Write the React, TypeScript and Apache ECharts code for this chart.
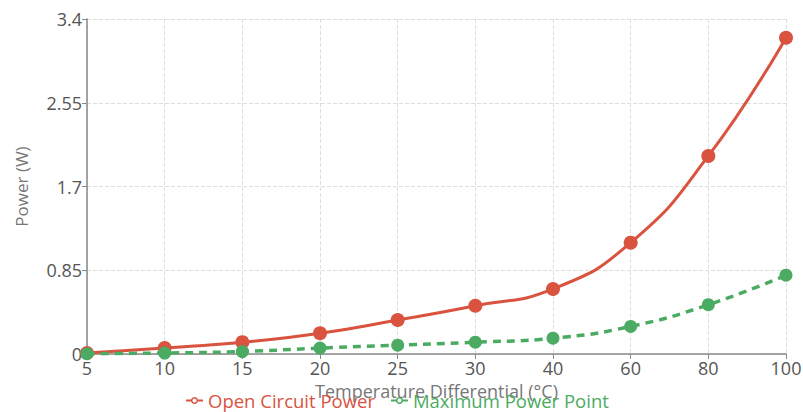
import React, { useEffect, useRef } from "react";
import * as echarts from "echarts";

const categories = ["5", "10", "15", "20", "25", "30", "40", "60", "80", "100"];
const openCircuitPower = [0.01, 0.06, 0.12, 0.21, 0.345, 0.49, 0.66, 1.13, 2.01, 3.21];
const maxPowerPoint = [0.003, 0.01, 0.025, 0.06, 0.09, 0.12, 0.16, 0.28, 0.5, 0.8];
const yTicks = { min: 0, max: 3.4, interval: 0.85 };

const RED = "#d9533f";
const GREEN = "#4cab62";
const FONT = "'Open Sans', 'Noto Sans', sans-serif";

export default function App() {
  const ref = useRef<HTMLDivElement>(null);
  useEffect(() => {
    if (!ref.current) return;
    const chart = echarts.init(ref.current, null, { renderer: "svg" });
    chart.setOption({
      animation: false,
      textStyle: { fontFamily: FONT },
      grid: { left: 87, right: 17, top: 19, bottom: 58, outerBoundsMode: "none", containLabel: false },
      legend: {
        top: 391,
        left: 185,
        padding: 0,
        itemGap: 15,
        itemWidth: 17,
        itemHeight: 7,
        textStyle: { fontSize: 18.5, fontFamily: FONT },
        data: [
          {
            name: "Open Circuit Power",
            itemStyle: { color: "#fff", borderColor: RED, borderWidth: 1.5 },
            lineStyle: { color: RED, width: 2, type: "solid" },
            textStyle: { color: RED },
          },
          {
            name: "Maximum Power Point",
            itemStyle: { color: "#fff", borderColor: GREEN, borderWidth: 1.5 },
            lineStyle: { color: GREEN, width: 2, type: "solid" },
            textStyle: { color: GREEN },
          },
        ],
      },
      xAxis: {
        type: "category",
        data: categories,
        boundaryGap: false,
        name: "Temperature Differential (°C)",
        nameLocation: "middle",
        nameGap: 25,
        nameTextStyle: { fontSize: 18, color: "#777", fontFamily: FONT },
        axisLine: { lineStyle: { color: "#888", width: 1.5 } },
        axisTick: { show: true, alignWithLabel: true, lineStyle: { color: "#888" } },
        axisLabel: { fontSize: 18, color: "#555", margin: 5 },
        splitLine: { show: true, lineStyle: { type: "dashed", color: "#dedede" } },
      },
      yAxis: {
        type: "value",
        min: yTicks.min,
        max: yTicks.max,
        interval: yTicks.interval,
        name: "Power (W)",
        nameLocation: "middle",
        nameGap: 57,
        nameTextStyle: { fontSize: 17, color: "#777", fontFamily: FONT },
        axisLine: { show: true, lineStyle: { color: "#888", width: 1.5 } },
        axisTick: { show: true, length: 5, lineStyle: { color: "#888" } },
        axisLabel: { fontSize: 18, color: "#555", margin: 5 },
        splitLine: { show: true, lineStyle: { type: "dashed", color: "#dedede" } },
      },
      series: [
        {
          name: "Open Circuit Power",
          type: "line",
          data: openCircuitPower,
          smooth: true,
          symbol: "circle",
          symbolSize: 14,
          lineStyle: { color: RED, width: 3 },
          itemStyle: { color: RED },
          z: 2,
        },
        {
          name: "Maximum Power Point",
          type: "line",
          data: maxPowerPoint,
          smooth: true,
          symbol: "circle",
          symbolSize: 13,
          lineStyle: { color: GREEN, width: 3.5, type: [8, 6] },
          itemStyle: { color: GREEN },
          z: 3,
        },
      ],
    });
    return () => chart.dispose();
  }, []);
  return (
    <div
      ref={ref}
      style={{ position: "absolute", left: 0, top: 0, width: 803, height: 412 }}
    />
  );
}
